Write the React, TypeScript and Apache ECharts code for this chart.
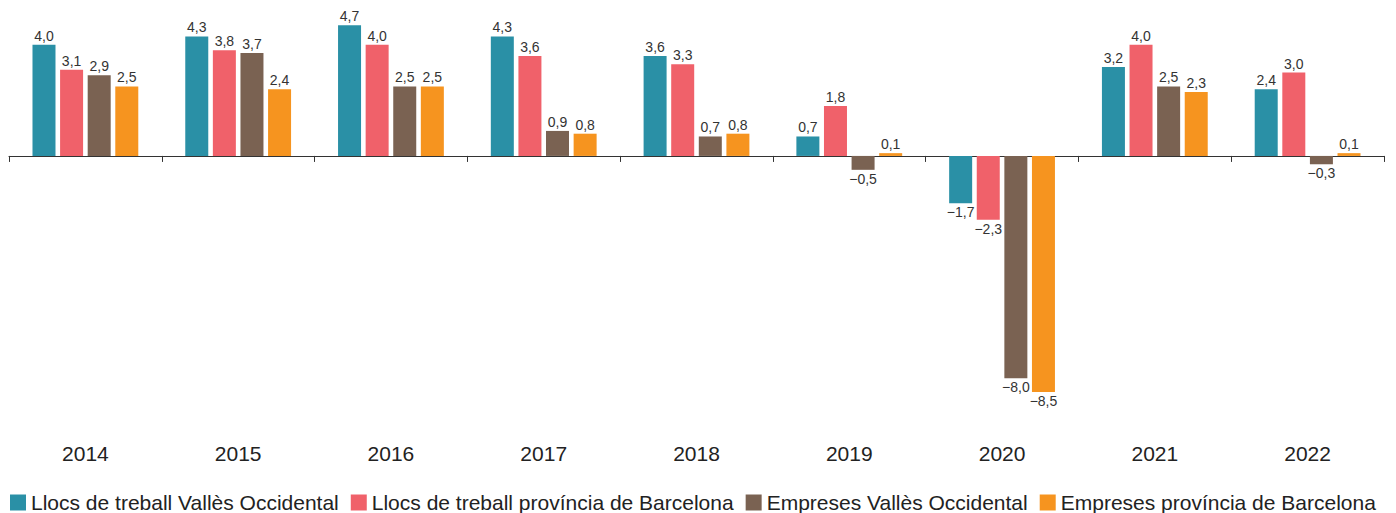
import React, { useEffect, useRef } from "react";
import * as echarts from "echarts";

const years = ["2014", "2015", "2016", "2017", "2018", "2019", "2020", "2021", "2022"];
const seriesNames = [
  "Llocs de treball Vallès Occidental",
  "Llocs de treball província de Barcelona",
  "Empreses Vallès Occidental",
  "Empreses província de Barcelona",
];
const llocsVO = [4.0, 4.3, 4.7, 4.3, 3.6, 0.7, -1.7, 3.2, 2.4];
const llocsBCN = [3.1, 3.8, 4.0, 3.6, 3.3, 1.8, -2.3, 4.0, 3.0];
const empresesVO = [2.9, 3.7, 2.5, 0.9, 0.7, -0.5, -8.0, 2.5, -0.3];
const empresesBCN = [2.5, 2.4, 2.5, 0.8, 0.8, 0.1, -8.5, 2.3, 0.1];
const colors = ["#2a90a6", "#f0616a", "#7a6252", "#f6941f"];

const FONT = "'Liberation Sans', Arial, Helvetica, sans-serif";

const fmt = (v: number) => {
  const s = Math.abs(v).toFixed(1).replace(".", ",");
  return v < 0 ? "\u2212" + s : s;
};

export default function App() {
  const ref = useRef<HTMLDivElement>(null);
  useEffect(() => {
    if (!ref.current) return;
    const chart = echarts.init(ref.current, null, { renderer: "svg" });
    const data = [llocsVO, llocsBCN, empresesVO, empresesBCN];
    chart.setOption({
      animation: false,
      textStyle: { fontFamily: FONT },
      legend: {
        left: 10,
        top: 492,
        padding: 0,
        itemWidth: 16,
        itemHeight: 16,
        itemGap: 12,
        icon: "rect",
        textStyle: { fontSize: 21, color: "#222", fontFamily: FONT },
        data: seriesNames,
      },
      grid: { left: 9, right: 12, top: 17, height: 389 },
      xAxis: [
        {
          type: "category",
          data: years,
          position: "bottom",
          axisLine: { show: false, onZero: false },
          axisTick: { show: false },
          axisLabel: { fontSize: 21, color: "#222", margin: 37, fontFamily: FONT },
        },
        {
          type: "category",
          data: years,
          position: "bottom",
          axisLine: { show: true, onZero: true, lineStyle: { color: "#333", width: 1 } },
          axisTick: { show: true, length: 6, lineStyle: { color: "#333" } },
          axisLabel: { show: false },
        },
      ],
      yAxis: {
        type: "value",
        min: -9,
        max: 5,
        show: false,
        splitLine: { show: false },
      },
      series: data.map((d, i) => ({
        name: seriesNames[i],
        type: "bar",
        barWidth: 23,
        barGap: "20%",
        itemStyle: { color: colors[i] },
        label: {
          show: true,
          distance: 2,
          fontSize: 14,
          color: "#333",
          fontFamily: FONT,
          formatter: (p: any) => fmt(p.value),
        },
        data: d.map((v) => ({
          value: v,
          label: { position: v < 0 ? "bottom" : "top" },
        })),
      })),
    });
    return () => chart.dispose();
  }, []);
  return (
    <div
      ref={ref}
      style={{ position: "absolute", left: 0, top: 0, width: 1396, height: 513 }}
    />
  );
}
